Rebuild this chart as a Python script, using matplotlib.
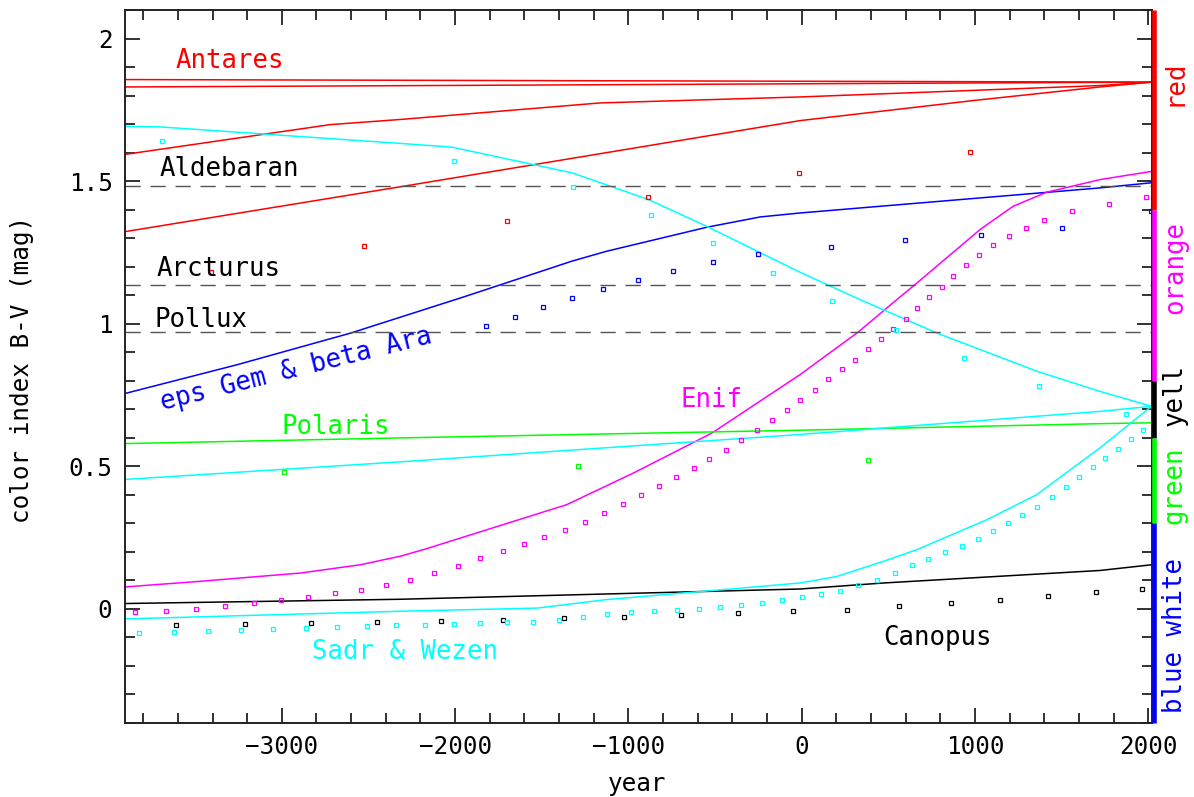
import matplotlib
matplotlib.use("Agg")
import matplotlib.pyplot as plt
from matplotlib.ticker import MultipleLocator
from matplotlib.transforms import blended_transform_factory

plt.rcParams['font.family'] = ['DejaVu Sans Mono', 'DejaVu Sans']

# ---------------- data ----------------
# model curves: year, B-V
antares_hi_x = [-3910, 2020]
antares_hi_y = [1.856, 1.847]
antares_lo_x = [-3910, 2020]
antares_lo_y = [1.830, 1.847]
red_c_x = [-3910, -2720, -2316, -1163, -9, 1722, 2020]
red_c_y = [1.593, 1.698, 1.716, 1.774, 1.795, 1.835, 1.847]
red_d_x = [-3910, -2316, -9, 1000, 1722, 2020]
red_d_y = [1.322, 1.480, 1.712, 1.783, 1.830, 1.847]

blue_x = [-3910, -3256, -2601, -1948, -1326, -1124, -547, -240, -9, 1722, 2020]
blue_y = [0.754, 0.856, 0.967, 1.094, 1.219, 1.254, 1.338, 1.374, 1.388, 1.476, 1.494]

enif_x = [-3910, -3470, -2893, -2547, -2316, -2172, -1355, -970, -518, -9, 328, 549, 655,
          1030, 1222, 1415, 1722, 2020]
enif_y = [0.076, 0.096, 0.125, 0.154, 0.184, 0.209, 0.365, 0.476, 0.616, 0.821, 0.971, 1.084,
          1.137, 1.330, 1.412, 1.461, 1.505, 1.534]

polaris_x = [-3910, -2316, -9, 1722, 2020]
polaris_y = [0.579, 0.599, 0.626, 0.649, 0.652]

canopus_x = [-3910, -2316, -9, 470, 1722, 2020]
canopus_y = [0.018, 0.033, 0.069, 0.090, 0.134, 0.154]

cyan_up_x = [-3910, -3705, -2316, -2019, -1326, -884, -547, -9, 338, 780, 1357, 1722, 2020]
cyan_up_y = [1.692, 1.690, 1.632, 1.619, 1.529, 1.435, 1.341, 1.180, 1.084, 0.967, 0.833, 0.762, 0.710]
cyan_mid_x = [-3910, -2316, -9, 1722, 2020]
cyan_mid_y = [0.453, 0.515, 0.611, 0.692, 0.710]
cyan_low_x = [-3910, -2316, -1528, -1124, -9, 203, 472, 665, 1069, 1357, 1530, 1722, 2020]
cyan_low_y = [-0.036, -0.009, 0.002, 0.032, 0.090, 0.113, 0.166, 0.207, 0.312, 0.400, 0.478, 0.564, 0.710]

# reference lines (current B-V)
ref_names = ['Aldebaran', 'Arcturus', 'Pollux']
ref_values = [1.482, 1.137, 0.970]

# sampled points
red_pts_x = [-3406, -2528, -1701, -884, -14, 972]
red_pts_y = [1.181, 1.271, 1.361, 1.445, 1.527, 1.602]

blue_pts_x = [-1820, -1657, -1494, -1323, -1144, -947, -740, -512, -249, 168, 597, 1034, 1501, 2017]
blue_pts_y = [0.991, 1.023, 1.057, 1.090, 1.123, 1.154, 1.186, 1.215, 1.245, 1.269, 1.292, 1.312,
              1.334, 1.394]

green_pts_x = [-2990, -1288, 385]
green_pts_y = [0.480, 0.502, 0.520]

black_pts_x = [-3611, -3215, -2830, -2451, -2082, -1724, -1370, -1028, -695, -368, -47, 261, 563,
               861, 1145, 1424, 1698, 1963]
black_pts_y = [-0.057, -0.053, -0.050, -0.046, -0.042, -0.039, -0.033, -0.028, -0.023, -0.016,
               -0.009, -0.004, 0.008, 0.020, 0.032, 0.043, 0.057, 0.070]

magenta_pts_x = [-3850, -3669, -3496, -3325, -3163, -3003, -2846, -2692, -2544, -2398, -2259, -2121,
                 -1986, -1855, -1726, -1605, -1484, -1365, -1253, -1140, -1032, -928, -824, -724,
                 -624, -532, -437, -349, -259, -172, -85, -9, 78, 155, 232, 309, 385, 457, 530, 601,
                 668, 737, 809, 876, 949, 1026, 1107, 1196, 1295, 1401, 1563, 1771, 1988]
magenta_pts_y = [-0.013, -0.007, 0.000, 0.008, 0.019, 0.029, 0.041, 0.055, 0.067, 0.084, 0.102, 0.125,
                 0.151, 0.178, 0.204, 0.227, 0.250, 0.275, 0.304, 0.336, 0.368, 0.399, 0.432, 0.462,
                 0.494, 0.525, 0.558, 0.591, 0.626, 0.661, 0.696, 0.733, 0.768, 0.804, 0.839, 0.874,
                 0.911, 0.946, 0.981, 1.016, 1.053, 1.092, 1.129, 1.166, 1.204, 1.239, 1.274, 1.306,
                 1.337, 1.365, 1.394, 1.421, 1.443]

cyan_up_pts_x = [-3693, -2009, -1317, -870, -509, -166, 178, 544, 938, 1372, 1872]
cyan_up_pts_y = [1.640, 1.570, 1.480, 1.382, 1.281, 1.178, 1.078, 0.979, 0.880, 0.780, 0.683]

cyan_low_pts_x = [-3827, -3625, -3426, -3234, -3048, -2861, -2682, -2509, -2340, -2173, -2009, -1855,
                  -1698, -1548, -1403, -1259, -1121, -984, -851, -720, -595, -470, -349, -230, -114,
                  0, 111, 222, 328, 434, 536, 636, 732, 828, 924, 1015, 1103, 1190, 1274, 1361, 1444,
                  1525, 1603, 1681, 1751, 1828, 1901, 1972]
cyan_low_pts_y = [-0.085, -0.082, -0.077, -0.074, -0.070, -0.068, -0.064, -0.061, -0.059, -0.056,
                  -0.053, -0.050, -0.047, -0.046, -0.040, -0.029, -0.018, -0.012, -0.009, -0.005,
                  0.000, 0.006, 0.014, 0.021, 0.030, 0.041, 0.053, 0.063, 0.083, 0.102, 0.125, 0.152,
                  0.174, 0.199, 0.221, 0.245, 0.271, 0.299, 0.327, 0.357, 0.392, 0.428, 0.463, 0.497,
                  0.529, 0.560, 0.595, 0.628]

# colour classes on the right edge
class_names = ['red', 'orange', 'yell', 'green', 'blue white']
class_lo = [1.4, 0.8, 0.6, 0.3, -0.4]
class_hi = [2.1, 1.4, 0.8, 0.6, 0.3]
class_label_y = [1.845, 1.196, 0.751, 0.432, -0.095]
class_colors = ['#ff0000', '#ff00ff', '#000000', '#00ff00', '#0000ff']

# ---------------- figure ----------------
fig = plt.figure(figsize=(11.94, 7.97), dpi=100)
ax = fig.add_axes([0.10469, 0.09322, 0.86013, 0.89423])
ax.set_xlim(-3905, 2022)
ax.set_ylim(-0.4, 2.1)

lw = 1.1
RED, BLUE, MAG, GRN, CYN, BLK = '#ff0000', '#0000ff', '#ff00ff', '#00ff00', '#00ffff', '#000000'

for xs, ys in [(antares_hi_x, antares_hi_y), (antares_lo_x, antares_lo_y),
               (red_c_x, red_c_y), (red_d_x, red_d_y)]:
    ax.plot(xs, ys, color=RED, lw=lw)
ax.plot(blue_x, blue_y, color=BLUE, lw=lw)
ax.plot(enif_x, enif_y, color=MAG, lw=lw)
ax.plot(polaris_x, polaris_y, color=GRN, lw=lw)
ax.plot(canopus_x, canopus_y, color=BLK, lw=lw)
for xs, ys in [(cyan_up_x, cyan_up_y), (cyan_mid_x, cyan_mid_y), (cyan_low_x, cyan_low_y)]:
    ax.plot(xs, ys, color=CYN, lw=lw)

for v in ref_values:
    ax.axhline(v, color='#555555', lw=1.0, dashes=(11, 7))

mk = dict(marker='s', ms=2.8, mfc='none', mew=0.9, ls='none')
ax.plot(red_pts_x, red_pts_y, mec=RED, **mk)
ax.plot(blue_pts_x, blue_pts_y, mec=BLUE, **mk)
ax.plot(green_pts_x, green_pts_y, mec=GRN, **mk)
ax.plot(black_pts_x, black_pts_y, mec=BLK, **mk)
ax.plot(magenta_pts_x, magenta_pts_y, mec=MAG, **mk)
ax.plot(cyan_up_pts_x, cyan_up_pts_y, mec=CYN, **mk)
ax.plot(cyan_low_pts_x, cyan_low_pts_y, mec=CYN, **mk)

fs = 18.5
ax.text(-3615, 1.895, 'Antares', color=RED, fontsize=fs, va='baseline')
ax.text(-3707, 1.519, 'Aldebaran', color=BLK, fontsize=fs, va='baseline')
ax.text(-3723, 1.166, 'Arcturus', color=BLK, fontsize=fs, va='baseline')
ax.text(-3736, 0.988, 'Pollux', color=BLK, fontsize=fs, va='baseline')
ax.text(-2999, 0.611, 'Polaris', color=GRN, fontsize=fs, va='baseline')
ax.text(-701, 0.708, 'Enif', color=MAG, fontsize=fs, va='baseline')
ax.text(-2826, -0.177, 'Sadr & Wezen', color=CYN, fontsize=fs, va='baseline')
ax.text(472, -0.129, 'Canopus', color=BLK, fontsize=fs, va='baseline')
ax.text(-3689, 0.698, 'eps Gem & beta Ara', color=BLUE, fontsize=fs, va='baseline',
        ha='left', rotation=14, rotation_mode='anchor')

# right colour bar
tr = blended_transform_factory(ax.transAxes, ax.transData)
for lo, hi, c, name, ly in zip(class_lo, class_hi, class_colors, class_names, class_label_y):
    ax.plot([1.0015, 1.0015], [lo, hi], color=c, lw=3.3, transform=tr, clip_on=False,
            solid_capstyle='butt', zorder=5)
    ax.text(1.0222, ly, name, color=c, fontsize=fs, rotation=90, ha='center', va='center',
            transform=tr, clip_on=False)

# axes styling
ax.xaxis.set_major_locator(MultipleLocator(1000))
ax.xaxis.set_minor_locator(MultipleLocator(200))
ax.yaxis.set_major_locator(MultipleLocator(0.5))
ax.yaxis.set_minor_locator(MultipleLocator(0.1))
ax.yaxis.set_major_formatter(plt.FuncFormatter(lambda v, p: ('%g' % v)))
ax.tick_params(which='both', direction='in', top=True, right=True, width=1.3, colors='#222222',
               labelsize=17.5, labelcolor='black')
ax.tick_params(which='major', length=11, pad=9)
ax.tick_params(which='minor', length=7)
for s in ax.spines.values():
    s.set_linewidth(1.4)
    s.set_color('#222222')

fig.text(637 / 1194, 1 - 784 / 797, 'year', ha='center', va='center', fontsize=17.5)
fig.text(22 / 1194, 1 - 369 / 797, 'color index B-V (mag)', ha='center', va='center',
         rotation=90, fontsize=17.5)

fig.savefig('out.png', dpi=100)
